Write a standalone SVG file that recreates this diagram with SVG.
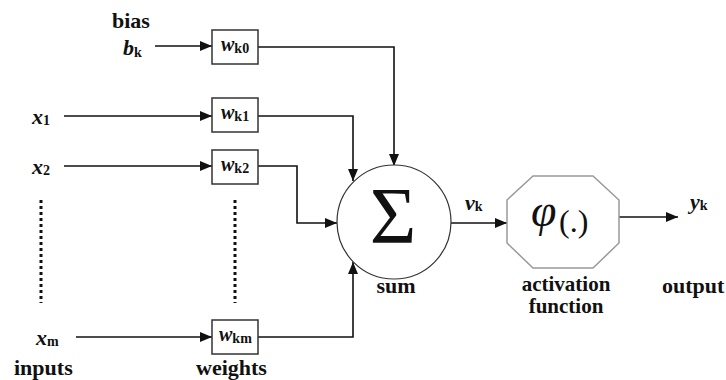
<svg xmlns="http://www.w3.org/2000/svg" width="726" height="380" viewBox="0 0 726 380">
<style>
text{font-family:"Liberation Serif","Times New Roman",Times,"DejaVu Serif",serif;fill:#111}
.lbl{font-weight:bold;font-size:22px}
.lbl2{font-weight:bold;font-size:21px}
.var{font-weight:bold;font-style:italic;font-size:22px}
.sub{font-style:normal;font-size:14px}
.wt{font-weight:bold;font-style:italic;font-size:20px}
.box{fill:#fff;stroke:#333;stroke-width:1.5}
.ln{fill:none;stroke:#111;stroke-width:1.6}
.dots{fill:none;stroke:#111;stroke-width:3;stroke-dasharray:3 3}
</style>
<defs>
<marker id="ah" viewBox="0 0 12 10" refX="12" refY="5" markerWidth="12" markerHeight="10" markerUnits="userSpaceOnUse" orient="auto">
<path d="M0,0 L12,5 L0,10 z" fill="#111"/>
</marker>
</defs>
<g id="connectors">
<line class="ln" x1="155" y1="46" x2="212" y2="46" marker-end="url(#ah)"/>
<line class="ln" x1="64" y1="116" x2="212" y2="116" marker-end="url(#ah)"/>
<line class="ln" x1="64" y1="166" x2="212" y2="166" marker-end="url(#ah)"/>
<line class="ln" x1="76" y1="337" x2="212" y2="337" marker-end="url(#ah)"/>
<polyline class="ln" points="258,47 394,47 394,166" marker-end="url(#ah)"/>
<polyline class="ln" points="258,116 353,116 353,181" marker-end="url(#ah)"/>
<polyline class="ln" points="258,166 297,166 297,223 337,223" marker-end="url(#ah)"/>
<polyline class="ln" points="258,337 353,337 353,262" marker-end="url(#ah)"/>
<line class="ln" x1="451" y1="223" x2="507" y2="223" marker-end="url(#ah)"/>
<line class="ln" x1="619" y1="217" x2="678" y2="217" marker-end="url(#ah)"/>
</g>
<g id="dots-inputs"><line class="dots" x1="41" y1="200" x2="41" y2="303"/></g>
<g id="dots-weights"><line class="dots" x1="235" y1="200" x2="235" y2="303"/></g>
<g id="bias">
<text class="lbl" x="112" y="28">bias</text>
<text class="var" x="123" y="55">b<tspan class="sub" dy="2">k</tspan></text>
</g>
<g id="x1"><text class="var" x="32" y="124">x<tspan class="sub" dy="1">1</tspan></text></g>
<g id="x2"><text class="var" x="32" y="174">x<tspan class="sub" dy="1">2</tspan></text></g>
<g id="xm"><text class="var" x="36" y="345">x<tspan class="sub" dy="1">m</tspan></text></g>
<g id="inputs"><text class="lbl" x="14" y="375">inputs</text></g>
<g id="weights"><text class="lbl" x="196" y="375">weights</text></g>
<g id="wk0"><rect class="box" x="212" y="30" width="46" height="34"/><text class="wt" x="221" y="51">w<tspan class="sub" dy="2">k0</tspan></text></g>
<g id="wk1"><rect class="box" x="212" y="98" width="46" height="34"/><text class="wt" x="221" y="119">w<tspan class="sub" dy="2">k1</tspan></text></g>
<g id="wk2"><rect class="box" x="212" y="150" width="46" height="34"/><text class="wt" x="221" y="171">w<tspan class="sub" dy="2">k2</tspan></text></g>
<g id="wkm"><rect class="box" x="212" y="320" width="46" height="34"/><text class="wt" x="219" y="341">w<tspan class="sub" dy="2">km</tspan></text></g>
<g id="sum">
<circle cx="394" cy="222" r="57" fill="#fff" stroke="#333" stroke-width="1.2"/>
<text x="393" y="243" text-anchor="middle" font-size="80">Σ</text>
<text class="lbl" x="396" y="293" text-anchor="middle">sum</text>
</g>
<g id="vk"><text class="var" x="465" y="210">v<tspan class="sub" dy="1">k</tspan></text></g>
<g id="activation">
<polygon points="533,176 593,176 619,200 619,243 593,268 533,268 507,243 507,200" fill="#fff" stroke="#999" stroke-width="1.5"/>
<text x="531" y="226" font-style="italic" font-size="46">φ</text>
<text x="559" y="232" font-size="32">(.)</text>
<text class="lbl2" x="566" y="291" text-anchor="middle">activation</text>
<text class="lbl2" x="566" y="313" text-anchor="middle">function</text>
</g>
<g id="yk"><text class="var" x="690" y="209">y<tspan class="sub" dy="1">k</tspan></text></g>
<g id="output"><text class="lbl" x="662" y="293">output</text></g>
</svg>
